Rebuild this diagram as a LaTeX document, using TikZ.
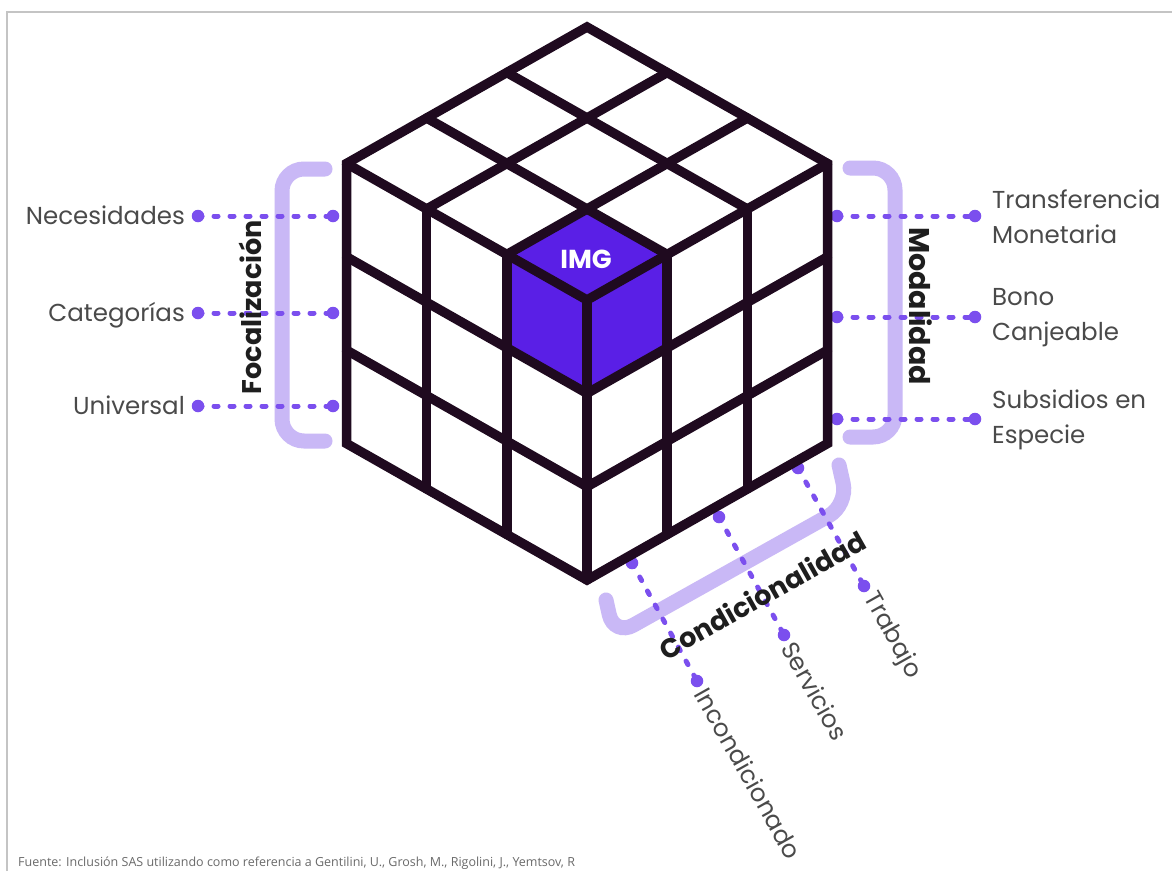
\documentclass[tikz,border=0pt]{standalone}
\usepackage{fontspec}
\setmainfont{Poppins}
\newfontfamily\footfont{Open Sans}
\usetikzlibrary{calc}
\definecolor{cubeline}{HTML}{1F0A1F}
\definecolor{imgpurple}{HTML}{5A1FE6}
\definecolor{dotpurple}{HTML}{7B4FEE}
\definecolor{bracketlav}{HTML}{C9B8F6}
\definecolor{labelgray}{HTML}{4A4A4A}
\definecolor{titledark}{HTML}{1E1E1E}
\definecolor{framegray}{HTML}{C4C4C4}
\definecolor{footgray}{HTML}{6A6A6A}
\begin{document}
\begin{tikzpicture}[x=1pt,y=-1pt,
  cubeedge/.style={draw=cubeline, line width=9.5pt, line cap=round, line join=round},
  cubeoutline/.style={draw=cubeline, line width=9.5pt, line join=miter},
  dot/.style={circle, fill=dotpurple, inner sep=0pt, minimum size=12.5pt},
  dashline/.style={draw=dotpurple, line width=5pt, line cap=round, dash pattern=on 4pt off 12pt},
  bracketstroke/.style={draw=bracketlav, line width=15pt, line cap=round, rounded corners=22pt},
  optlabel/.style={text=labelgray, font=\fontsize{24.5}{35}\selectfont, inner sep=0pt},
  axislabel/.style={text=titledark, font=\fontsize{27}{30}\selectfont\bfseries, inner sep=0pt}]
\useasboundingbox (0,0) rectangle (1172,871);
\fill[white] (0,0) rectangle (1172,871);
% frame
\coordinate (fr1) at (7,871);
\coordinate (fr2) at (7,12);
\coordinate (fr3) at (1172,12);
\draw[framegray, line width=2pt] (fr1) -- (fr2) -- (fr3);

% brackets
\draw[bracketstroke] (325,169) -- (282,169) -- (282,441) -- (325,441);
\draw[bracketstroke] (850,168) -- (895,168) -- (895,437) -- (850,437);
\draw[bracketstroke] (606,600) -- (614,636) -- (848,505) -- (839,465);

% left connectors
\node[dot] (nA) at (198,216) {};
\node[dot] (nB) at (333,216) {};
\node[dot] (cA) at (198,313) {};
\node[dot] (cB) at (333,313) {};
\node[dot] (uA) at (198,406) {};
\node[dot] (uB) at (333,406) {};
\draw[dashline] (nA.center) -- (nB.center);
\draw[dashline] (cA.center) -- (cB.center);
\draw[dashline] (uA.center) -- (uB.center);

% right connectors
\node[dot] (tA) at (837,216) {};
\node[dot] (tB) at (975,216) {};
\node[dot] (bA) at (837,317) {};
\node[dot] (bB) at (975,317) {};
\node[dot] (sA) at (837,419) {};
\node[dot] (sB) at (975,419) {};
\draw[dashline] (tA.center) -- (tB.center);
\draw[dashline] (bA.center) -- (bB.center);
\draw[dashline] (sA.center) -- (sB.center);

% bottom connectors
\node[dot] (iA) at (632,563) {};
\node[dot] (iB) at (697,681) {};
\node[dot] (vA) at (719,517) {};
\node[dot] (vB) at (784,635) {};
\node[dot] (jA) at (798,468) {};
\node[dot] (jB) at (864,586) {};
\draw[dashline] (iA.center) -- (iB.center);
\draw[dashline] (vA.center) -- (vB.center);
\draw[dashline] (jA.center) -- (jB.center);

% cube
\coordinate (T) at (587,27);
\coordinate (L) at (346.5,163.5);
\coordinate (R) at (827.5,163.5);
\coordinate (F) at (587,300);
\coordinate (LB) at (346.5,443.5);
\coordinate (RB) at (827.5,443.5);
\coordinate (B) at (587,580);
\fill[white] (T) -- (R) -- (RB) -- (B) -- (LB) -- (L) -- cycle;
% highlighted corner cubelet
\fill[imgpurple] (587,209) -- (667.5,254.5) -- (F) -- (506.5,254.5) -- cycle;
\fill[imgpurple] (506.5,254.5) -- (F) -- (587,393.3) -- (506.5,347.8) -- cycle;
\fill[imgpurple] (F) -- (667.5,254.5) -- (667.5,347.8) -- (587,393.3) -- cycle;
\foreach \i in {1,2} {
  \draw[cubeedge] ($(T)+\i*(-80.17,45.5)$) -- ++(240.5,136.5);
  \draw[cubeedge] ($(T)+\i*(80.17,45.5)$) -- ++(-240.5,136.5);
  \draw[cubeedge] ($(L)+\i*(80.17,45.5)$) -- ++(0,280);
  \draw[cubeedge] ($(F)+\i*(80.17,-45.5)$) -- ++(0,280);
  \draw[cubeedge] ($(L)+(0,\i*93.333)$) -- ($(F)+(0,\i*93.333)$);
  \draw[cubeedge] ($(F)+(0,\i*93.333)$) -- ($(R)+(0,\i*93.333)$);
}
\draw[cubeedge] (L) -- (F) -- (R);
\draw[cubeedge] (F) -- (B);
\draw[cubeoutline] (T) -- (R) -- (RB) -- (B) -- (LB) -- (L) -- cycle;
\node[text=white, font=\fontsize{26}{28}\selectfont\bfseries, inner sep=0pt] (img) at (586,259) {IMG};

% axis titles
\node[axislabel, rotate=90] (foc) at (250,307) {Focalización};
\node[axislabel, rotate=-90, font=\fontsize{28.5}{30}\selectfont\bfseries] (mod) at (921,306) {Modalidad};
\node[axislabel, rotate=29.4] (cond) at (762,595) {Condicionalidad};

% option labels
\node[optlabel, anchor=base east] (necesidades) at (185,224) {Necesidades};
\node[optlabel, anchor=base east] (categorias) at (185,321) {Categorías};
\node[optlabel, anchor=base east] (universal) at (185,414) {Universal};
\node[optlabel, anchor=west, align=left] (transf) at (992,217) {Transferencia\\Monetaria};
\node[optlabel, anchor=west, align=left] (bono) at (992,318) {Bono\\Canjeable};
\node[optlabel, anchor=west, align=left] (subs) at (992,420) {Subsidios en\\Especie};
\node[optlabel, anchor=west, rotate=-60.7] (incond) at ($(iB)!-10pt!(iA)$) {Incondicionado};
\node[optlabel, anchor=west, rotate=-60.7] (serv) at ($(vB)!-10pt!(vA)$) {Servicios};
\node[optlabel, anchor=west, rotate=-60.7] (trab) at ($(jB)!-10pt!(jA)$) {Trabajo};

% footer
\node[anchor=base west, inner sep=0pt, text=footgray, font=\footfont\fontsize{12.5}{14}\selectfont] (fuente) at (18,866) {Fuente: Inclusión SAS utilizando como referencia a Gentilini, U., Grosh, M., Rigolini, J., Yemtsov, R};
\end{tikzpicture}
\end{document}
